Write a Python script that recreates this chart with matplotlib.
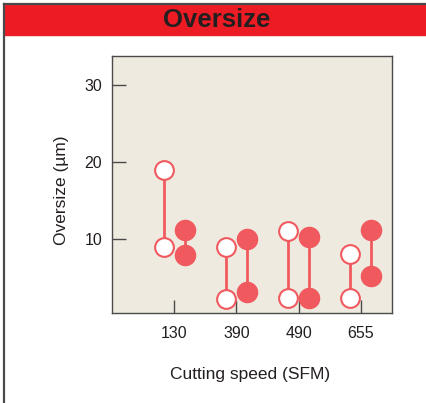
import matplotlib.pyplot as plt
import numpy as np
from matplotlib.lines import Line2D
from matplotlib.patches import Rectangle

plt.rcParams["font.family"] = ["Liberation Sans", "DejaVu Sans"]

speeds = ["130", "390", "490", "655"]
open_low = [8.9, 2.1, 2.3, 2.2]
open_high = [18.9, 8.9, 11.0, 8.0]
filled_low = [7.9, 3.1, 2.3, 5.1]
filled_high = [11.1, 10.0, 10.2, 11.1]

RED = "#ed1c24"
MARK = "#f05a5f"
FRAME = "#4a4a4a"

W, H = 426, 403
fig = plt.figure(figsize=(W / 100, H / 100), dpi=100)

# page frame and red header bar
fig.patches.append(Rectangle((4 / W, 1 - 35 / H), 1 - 4 / W, 31 / H,
                             transform=fig.transFigure, color=RED, zorder=0))
fig.lines.append(Line2D([4 / W, 4 / W], [0, 1 - 4 / H], transform=fig.transFigure,
                        color=FRAME, lw=1.6))
fig.lines.append(Line2D([4 / W, 1], [1 - 4 / H, 1 - 4 / H], transform=fig.transFigure,
                        color=FRAME, lw=1.6))
fig.text(217 / W, 1 - 20 / H, "Oversize", ha="center", va="center",
         fontsize=18.5, fontweight="bold", color="#231f20")

ax = fig.add_axes([112 / W, 1 - 313 / H, 280 / W, 257 / H])
ax.set_facecolor("#efeae0")

x = np.arange(1, len(speeds) + 1)
off = 0.17
for i in range(len(speeds)):
    ax.plot([x[i] - off] * 2, [open_low[i], open_high[i]], color=MARK, lw=2, zorder=2)
    ax.plot([x[i] + off] * 2, [filled_low[i], filled_high[i]], color=MARK, lw=2, zorder=2)

ax.plot(np.r_[x, x] - off, open_low + open_high, "o", ms=13.5, mfc="white",
        mec=MARK, mew=1.5, ls="none", zorder=3)
ax.plot(np.r_[x, x] + off, filled_low + filled_high, "o", ms=14.5, mfc=MARK,
        mec=MARK, mew=1, ls="none", zorder=3)

ax.set_xlim(0, 4.5)
ax.set_ylim(0.3, 33.8)
ax.set_xticks(x)
ax.set_xticklabels(speeds)
ax.set_yticks([10, 20, 30])
ax.tick_params(axis="both", direction="in", color=FRAME, labelsize=11.5, labelcolor="#231f20")
ax.tick_params(axis="y", length=10, width=1, pad=7)
ax.tick_params(axis="x", length=9.5, width=1, pad=9)
for s in ax.spines.values():
    s.set_color(FRAME)
    s.set_linewidth(1)

fig.text(62 / W, 1 - 190 / H, "Oversize (µm)", rotation=90, ha="center", va="center",
         fontsize=12.5, color="#231f20")
fig.text(250 / W, 1 - 374 / H, "Cutting speed (SFM)", ha="center", va="center",
         fontsize=12.5, color="#231f20")

fig.savefig("out.png", dpi=100)
